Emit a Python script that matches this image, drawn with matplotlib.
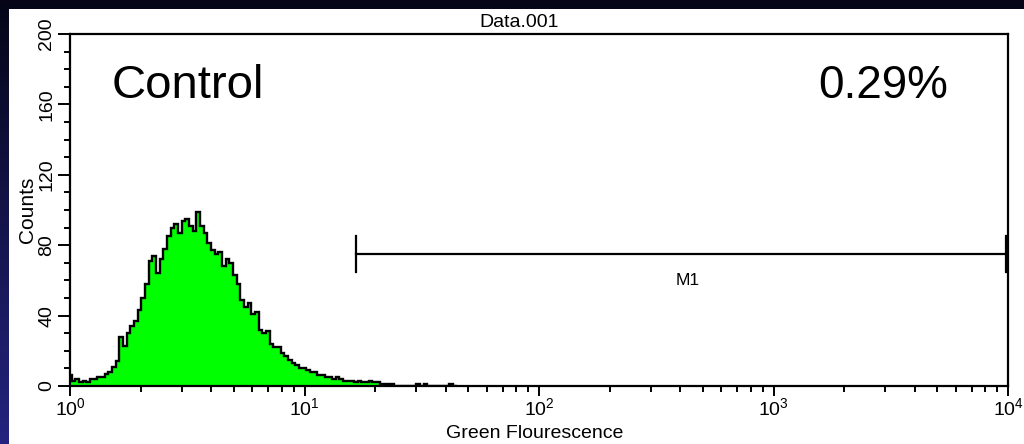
import numpy as np
import matplotlib
matplotlib.use("Agg")
import matplotlib.pyplot as plt
from matplotlib.patches import Rectangle
from matplotlib.ticker import FixedLocator, LogLocator, NullFormatter

plt.rcParams['font.family'] = ['Liberation Sans', 'DejaVu Sans']
plt.rcParams['mathtext.fontset'] = 'custom'
plt.rcParams['mathtext.rm'] = 'Liberation Sans'
plt.rcParams['mathtext.it'] = 'Liberation Sans:italic'
plt.rcParams['mathtext.bf'] = 'Liberation Sans:bold'

# ---- data -------------------------------------------------------------
channels_per_decade = 64
counts = [6, 3, 4, 2, 3, 2, 4, 4, 5, 5,
          7, 8, 11, 14, 28, 23, 30, 34, 37, 43,
          50, 58, 71, 74, 64, 72, 78, 85, 90, 92,
          87, 94, 95, 91, 88, 99, 91, 87, 81, 77,
          75, 76, 68, 72, 70, 63, 58, 49, 45, 47,
          41, 42, 32, 30, 31, 24, 22, 22, 19, 17,
          15, 13, 12, 10, 10, 9, 8, 8, 6, 6,
          5, 5, 4, 5, 4, 3, 3, 3, 2, 3,
          2, 2, 3, 2, 2, 1, 1, 1, 1, 0,
          0, 0, 0, 0, 0, 1, 0, 1, 0, 0,
          0, 0, 0, 0, 1, 0]

gate_range = [16.6, 9800.0]
gate_level = 75
gate_cap = 10
gate_name = "M1"
gate_label_x = 430

sample_name = "Control"
gate_percent = "0.29%"
file_name = "Data.001"

xticks = [1, 10, 100, 1000, 10000]
xtick_labels = [r"$\mathdefault{10^{0}}$", r"$\mathdefault{10^{1}}$",
                r"$\mathdefault{10^{2}}$", r"$\mathdefault{10^{3}}$",
                r"$\mathdefault{10^{4}}$"]
yticks = [0, 40, 80, 120, 160, 200]

# ---- figure & backdrop -----------------------------------------------
W, H = 1024, 444
fig = plt.figure(figsize=(W / 100, H / 100), dpi=100)

bg = fig.add_axes([0, 0, 1, 1], zorder=-10)
bg.set_axis_off()
grad = np.linspace(0, 1, 256)[:, None]
top_col = np.array([0.02, 0.02, 0.09])
bot_col = np.array([0.14, 0.14, 0.50])
img = top_col + (bot_col - top_col) * grad[..., None]
img = np.repeat(img, 2, axis=1)
bg.imshow(img, aspect="auto", extent=[0, 1, 0, 1], origin="upper")
bg.add_patch(Rectangle((9 / W, 0), 1, 1 - 9 / H, facecolor="white",
                       edgecolor="none"))
bg.set_xlim(0, 1)
bg.set_ylim(0, 1)

# ---- histogram axes ---------------------------------------------------
x0, x1, y0, y1 = 70, 1008, 34, 386
ax = fig.add_axes([x0 / W, 1 - y1 / H, (x1 - x0) / W, (y1 - y0) / H])
ax.set_facecolor("white")

n = len(counts)
edges = 10 ** ((np.arange(n + 1) - 0.5) / channels_per_decade)
ax.stairs(counts, edges, fill=True, facecolor="#00ff00", edgecolor="none")
ax.stairs(counts, edges, color="black", linewidth=1.7)

ax.set_xscale("log")
ax.set_xlim(1, 10000)
ax.set_ylim(0, 200)

ax.xaxis.set_major_locator(FixedLocator(xticks))
ax.set_xticklabels(xtick_labels)
ax.xaxis.set_minor_locator(LogLocator(base=10, subs=np.arange(2, 10)))
ax.xaxis.set_minor_formatter(NullFormatter())

ax.set_yticks(yticks)
ax.set_yticklabels([str(v) for v in yticks], rotation=90, va="center")
ax.set_yticks(np.arange(0, 201, 10), minor=True)

for s in ax.spines.values():
    s.set_linewidth(1.6)
    s.set_color("black")

ax.tick_params(axis="both", which="both", direction="out", width=1.4,
               color="black", labelsize=14, top=False, right=False)
ax.tick_params(axis="y", which="major", length=8.5, pad=2)
ax.tick_params(axis="y", which="minor", length=4.5)
ax.tick_params(axis="x", which="major", length=7, pad=1)
ax.tick_params(axis="x", which="minor", length=4.5)

ax.set_ylabel("Counts", fontsize=15, labelpad=1)
fig.text(535 / W, 1 - 438 / H, "Green Flourescence", fontsize=14,
         ha="center", va="baseline")
fig.text(519 / W, 1 - 27 / H, file_name, fontsize=14, ha="center",
         va="baseline")

# gate marker
ax.plot(gate_range, [gate_level, gate_level], color="black", lw=1.6)
for gx in gate_range:
    ax.plot([gx, gx], [gate_level - gate_cap, gate_level + gate_cap],
            color="black", lw=1.6)
ax.text(gate_label_x, gate_level - 15, gate_name, fontsize=12.5,
        ha="center", va="center")

fig.text(112 / W, 1 - 98 / H, sample_name, fontsize=34, ha="left",
         va="baseline")
fig.text(948 / W, 1 - 98 / H, gate_percent, fontsize=33, ha="right",
         va="baseline")

fig.savefig("out.png", dpi=100)
